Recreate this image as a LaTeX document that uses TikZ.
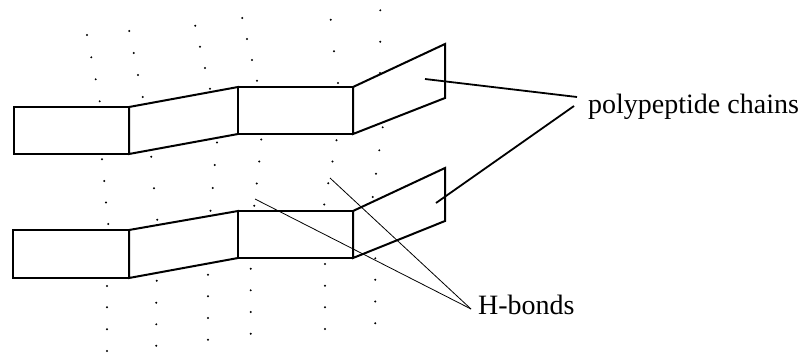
\documentclass[tikz,border=0pt]{standalone}
\usepackage{fontspec}
\setmainfont{Liberation Serif}
\begin{document}
\begin{tikzpicture}[x=1pt,y=-1pt,
  seg/.style={draw=black,fill=white,line width=2pt,line join=miter},
  dotmark/.style={fill=black},
  lead/.style={draw=black,line width=1.8pt},
  hb/.style={draw=black,line width=0.8pt},
  lbl/.style={inner sep=0pt,font=\fontsize{28}{30}\selectfont}]
\useasboundingbox (0,0) rectangle (807,354);
% dots
\foreach \p in {(87,35),(91.3,57.3),(95.7,79.3),(99.7,101.3),(102,159.3),(104.3,181),(106,202.5),(108.2,224),(107,286),(107,307.3),(107,329.3),(107,351),
 (129.3,31),(133.7,53),(138,75),(142.7,97),(151.3,156.7),(154,188.2),(157.2,219.7),(156.7,280.7),(156.3,302.7),(156.3,324.3),(156.3,345.7),
 (195.3,25.7),(200,46.7),(205,68),(210,88.7),(217,142.5),(214.7,165),(212.7,188),(210.5,210.7),(208,274.7),(208,296.3),(208,318),(208,339.7),
 (242.3,18),(247,39),(252,60),(257,80.7),(261.2,139.5),(259.2,161.5),(256.7,183.5),(254.3,205.7),(250.7,268.7),(250.7,290.3),(250.7,312),(250.7,333.7),
 (330.7,19.7),(334,51.3),(338,83),(336.5,140.2),(332.5,161.5),(328.3,183.2),(324.3,204.5),(325,264),(325,285.7),(325,307.3),(325,329),
 (380.3,10.3),(380.3,41.7),(380,73),(382.7,127.3),(379.3,150.3),(376,173.7),(372.7,197),(375.3,258.3),(375.3,279.7),(375.3,301.5),(375.3,323.2)}
  \fill[dotmark] \p circle (1.1);
% top chain
\path[seg] (14,107) rectangle (129,154);
\path[seg] (129,107) -- (238,87) -- (238,134) -- (129,154) -- cycle;
\path[seg] (238,87) rectangle (353,134);
\path[seg] (353,87) -- (445,44) -- (445,98) -- (353,134) -- cycle;
% bottom chain
\path[seg] (13,230) rectangle (129,278);
\path[seg] (129,230) -- (238,211) -- (238,258) -- (129,278) -- cycle;
\path[seg] (238,211) rectangle (353,258);
\path[seg] (353,211) -- (445,168) -- (445,221) -- (353,258) -- cycle;
% labels
\node[lbl,anchor=base west] (pc) at (588,113) {polypeptide chains};
\node[lbl,anchor=base west] (hbl) at (478,314) {H-bonds};
% leader ends
\coordinate (topS) at (425,79);
\coordinate (botS) at (436,203);
\coordinate (pcA) at (577,97);
\coordinate (pcB) at (574,106);
\coordinate (hb1) at (255,199);
\coordinate (hb2) at (330,178);
\coordinate (hbT) at (471,309);
\draw[lead] (topS) -- (pcA);
\draw[lead] (botS) -- (pcB);
\draw[hb] (hb1) -- (hbT);
\draw[hb] (hb2) -- (hbT);
\end{tikzpicture}
\end{document}
